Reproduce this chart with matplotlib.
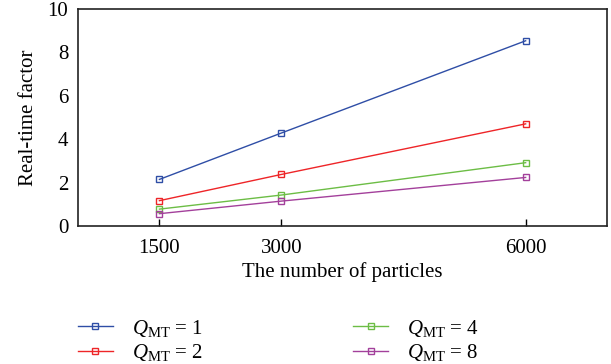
import matplotlib
matplotlib.use("Agg")
import matplotlib.pyplot as plt
import numpy as np

particles = [1500, 3000, 6000]
rtf_q1 = [2.15, 4.29, 8.54]
rtf_q2 = [1.17, 2.38, 4.71]
rtf_q4 = [0.78, 1.43, 2.92]
rtf_q8 = [0.57, 1.15, 2.24]
labels = [r'$Q_{\mathrm{MT}}$ = 1', r'$Q_{\mathrm{MT}}$ = 2',
          r'$Q_{\mathrm{MT}}$ = 4', r'$Q_{\mathrm{MT}}$ = 8']
colors = ['#2f4ea6', '#ee2528', '#6cbd45', '#a3409b']

plt.rcParams['font.family'] = 'serif'
plt.rcParams['font.serif'] = ['Liberation Serif', 'DejaVu Serif']
plt.rcParams['mathtext.fontset'] = 'custom'
plt.rcParams['mathtext.rm'] = 'Liberation Serif'
plt.rcParams['mathtext.it'] = 'Liberation Serif:italic'

fig = plt.figure(figsize=(6.11, 3.64), dpi=100)
ax = fig.add_axes([0.1277, 0.379, 0.8658, 0.596])

series = [rtf_q1, rtf_q2, rtf_q4, rtf_q8]
for vals, col, lab in zip(series, colors, labels):
    ax.plot(particles, vals, color=col, lw=1.0, marker='s', markersize=4.5,
            markerfacecolor='none', markeredgewidth=1.0, label=lab)

ax.set_xlim(500, 7000)
ax.set_ylim(0, 10)
ax.set_xticks(particles)
ax.set_yticks(np.arange(0, 11, 2))
ax.tick_params(axis='x', direction='in', length=5, width=1, labelsize=15, pad=9)
ax.tick_params(axis='y', length=0, labelsize=15, pad=7)
for s in ax.spines.values():
    s.set_linewidth(1.2)
    s.set_color('#222222')

ax.set_xlabel('The number of particles', fontsize=15, labelpad=3)
ax.set_ylabel('Real-time factor', fontsize=15, labelpad=7)

# legend in two columns below the axes
h, l = ax.get_legend_handles_labels()
fig.legend(h, l, ncol=2, loc='upper left', bbox_to_anchor=(0.1135, 0.15),
           frameon=False, fontsize=15, handlelength=1.7, columnspacing=7.2,
           labelspacing=0.15, handletextpad=0.9, borderaxespad=0)

fig.savefig('out.png', dpi=100)
